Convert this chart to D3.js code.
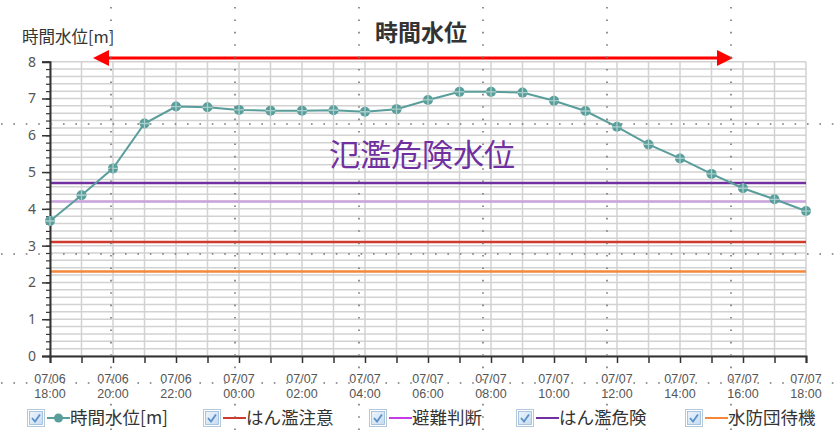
<!DOCTYPE html>
<html><head><meta charset="utf-8">
<script src="https://cdn.jsdelivr.net/npm/d3@7"></script>
<style>
html,body{margin:0;padding:0;background:#fff;}
svg{display:block;font-family:"Noto Sans CJK JP","Noto Sans",sans-serif;}
</style></head>
<body><svg id="c" width="837" height="430"></svg>
<script>
// ---- data ----
const times = ["2024-07-06T18:00","2024-07-06T19:00","2024-07-06T20:00","2024-07-06T21:00","2024-07-06T22:00","2024-07-06T23:00",
  "2024-07-07T00:00","2024-07-07T01:00","2024-07-07T02:00","2024-07-07T03:00","2024-07-07T04:00","2024-07-07T05:00",
  "2024-07-07T06:00","2024-07-07T07:00","2024-07-07T08:00","2024-07-07T09:00","2024-07-07T10:00","2024-07-07T11:00",
  "2024-07-07T12:00","2024-07-07T13:00","2024-07-07T14:00","2024-07-07T15:00","2024-07-07T16:00","2024-07-07T17:00","2024-07-07T18:00"];
const waterLevel = [3.67,4.37,5.10,6.32,6.78,6.76,6.69,6.67,6.67,6.68,6.64,6.71,6.96,7.18,7.18,7.16,6.94,6.66,6.23,5.75,5.37,4.95,4.56,4.26,3.94];
const thresholdNames = ["はん濫注意","避難判断","はん濫危険","水防団待機"];
const thresholdValues = [3.1,4.2,4.7,2.3];
const seriesName = "時間水位[m]";
const yTicks = [0,1,2,3,4,5,6,7,8];
const title = "時間水位";
const yLabel = "時間水位[m]";
const annotation = "氾濫危険水位";

// ---- styles ----
const seriesColor = "#5a9e9b";
const thrLineColors = ["#cf3a2c","#c9a3dc","#7030a0","#f5883a"];
const thrLegendColors = ["#cf3a2c","#c43ce8","#7030a0","#f5883a"];

(function(){
const svg = d3.select("#c");
const parse = d3.timeParse("%Y-%m-%dT%H:%M");
const data = times.map((t,i)=>({t:parse(t), v:waterLevel[i]}));

const pL=50, pR=806, pT=61.7, pB=356;
const x = d3.scaleTime().domain(d3.extent(data,d=>d.t)).range([pL,pR]);
const y = d3.scaleLinear().domain([0,8]).range([pB,pT]);

// grid
const hours = d3.timeHour.every(1).range(x.domain()[0], d3.timeMinute.offset(x.domain()[1],1));
const minor = d3.range(0,8.001,0.2);
const g = svg.append("g");
g.selectAll("line.hg").data(minor).join("line")
  .attr("x1",pL).attr("x2",pR).attr("y1",d=>y(d)).attr("y2",d=>y(d))
  .attr("stroke","#d2d2d2").attr("stroke-width",1.5);
g.selectAll("line.vg").data(hours).join("line")
  .attr("x1",d=>x(d)).attr("x2",d=>x(d)).attr("y1",pT).attr("y2",pB)
  .attr("stroke","#d2d2d2").attr("stroke-width",1.5);

// threshold lines
thresholdValues.forEach((v,i)=>{
  svg.append("line").attr("x1",pL).attr("x2",pR).attr("y1",y(v)).attr("y2",y(v))
    .attr("stroke",thrLineColors[i]).attr("stroke-width",2.5);
});

// axes
const yMinor = svg.append("g").attr("transform",`translate(${pL},0)`)
  .call(d3.axisLeft(y).tickValues(minor).tickSize(4).tickFormat(""));
yMinor.select(".domain").remove();
yMinor.selectAll("line").attr("stroke","#333").attr("stroke-width",1.2);
const yAx = svg.append("g").attr("transform",`translate(${pL},0)`)
  .call(d3.axisLeft(y).tickValues(yTicks).tickSize(8).tickPadding(6).tickFormat(d3.format("d")));
yAx.select(".domain").attr("stroke","#333").attr("stroke-width",2);
yAx.selectAll("line").attr("stroke","#333").attr("stroke-width",1.5);
yAx.selectAll("text").attr("font-size",14).attr("fill","#555").attr("font-family","Noto Sans, sans-serif");

const xAx = svg.append("g").attr("transform",`translate(0,${pB})`)
  .call(d3.axisBottom(x).tickValues(hours).tickSize(7).tickFormat(""));
xAx.select(".domain").attr("stroke","#333").attr("stroke-width",2);
xAx.selectAll("line").attr("stroke","#333").attr("stroke-width",1.5);

const fmtD = d3.timeFormat("%m/%d"), fmtH = d3.timeFormat("%H:%M");
const lbl = hours.filter((d,i)=>i%2===0);
const xl = svg.append("g").attr("font-size",12.5).attr("fill","#555").attr("text-anchor","middle")
  .attr("font-family","Liberation Sans, Arial, sans-serif");
xl.selectAll("text.a").data(lbl).join("text").attr("class","a").attr("x",d=>x(d)).attr("y",382.5).text(fmtD);
xl.selectAll("text.b").data(lbl).join("text").attr("class","b").attr("x",d=>x(d)).attr("y",397.5).text(fmtH);

// series
svg.append("path").datum(data)
  .attr("d",d3.line().x(d=>x(d.t)).y(d=>y(d.v)))
  .attr("fill","none").attr("stroke",seriesColor).attr("stroke-width",2);
const pts = svg.append("g").selectAll("g").data(data).join("g")
  .attr("transform",d=>`translate(${x(d.t)},${y(d.v)})`);
pts.append("circle").attr("r",5).attr("fill",seriesColor);
pts.append("path").attr("d","M-5,0H5M0,-5V5").attr("stroke","#a9cfcd").attr("stroke-width",1.3);

// titles
svg.append("text").attr("x",421).attr("y",41).attr("text-anchor","middle")
  .attr("font-size",23).attr("font-weight","bold").attr("fill","#333").text(title);
svg.append("text").attr("x",22).attr("y",43).attr("font-size",16.5).attr("fill","#333").text(yLabel);
svg.append("text").attr("x",422).attr("y",166).attr("text-anchor","middle")
  .attr("font-size",31).attr("fill","#7030a0").text(annotation);

// red double arrow
svg.append("line").attr("x1",106).attr("x2",720).attr("y1",58).attr("y2",58)
  .attr("stroke","#f00").attr("stroke-width",3);
svg.append("path").attr("d","M93,58 L109,50 L109,66 Z").attr("fill","#f00");
svg.append("path").attr("d","M733,58 L717,50 L717,66 Z").attr("fill","#f00");

// legend
const legX = [27,203,369,516,685];
const legNames = [seriesName].concat(thresholdNames);
const legColors = [seriesColor].concat(thrLegendColors);
const legY = 418;
const defs = svg.append("defs");
const gr = defs.append("linearGradient").attr("id","cb").attr("x1",0).attr("y1",0).attr("x2",1).attr("y2",1);
gr.append("stop").attr("offset","0").attr("stop-color","#eef5fc");
gr.append("stop").attr("offset","1").attr("stop-color","#c4dbf0");
legNames.forEach((n,i)=>{
  const gx = svg.append("g").attr("transform",`translate(${legX[i]},${legY})`);
  gx.append("rect").attr("x",0.5).attr("y",-8.5).attr("width",17).attr("height",17)
    .attr("fill","#fff").attr("stroke","#b4c8dc");
  gx.append("rect").attr("x",2.5).attr("y",-6.5).attr("width",13).attr("height",13)
    .attr("fill","url(#cb)").attr("stroke","#9ab8d6").attr("stroke-width",0.8);
  gx.append("path").attr("d","M5,0 L8,3.5 L13,-3.5").attr("fill","none")
    .attr("stroke","#5a90c8").attr("stroke-width",1.8);
  gx.append("line").attr("x1",20).attr("x2",43).attr("y1",0).attr("y2",0)
    .attr("stroke",legColors[i]).attr("stroke-width",2);
  if(i===0) gx.append("circle").attr("cx",31.5).attr("cy",0).attr("r",4.5).attr("fill",seriesColor);
  gx.append("text").attr("x",43).attr("y",6).attr("font-size",17.5).attr("fill","#333").text(n);
});

// dotted guide overlay
const ov = svg.append("g").attr("stroke","#777").attr("stroke-width",1.6).attr("stroke-dasharray","1.6,10.8");
[111,235,359,483,607,731].forEach(v=>ov.append("line").attr("x1",v).attr("x2",v).attr("y1",7).attr("y2",430));
[124,254,383].forEach(v=>ov.append("line").attr("x1",1).attr("x2",837).attr("y1",v).attr("y2",v));
})();
</script></body></html>
